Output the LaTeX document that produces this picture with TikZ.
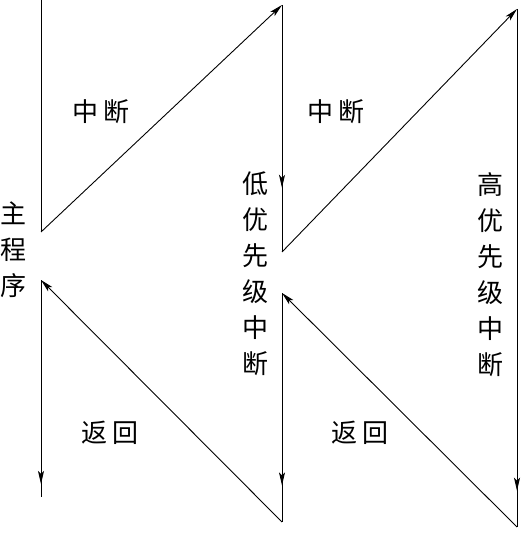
\documentclass[tikz,border=0pt]{standalone}
\usepackage{fontspec}
\newfontfamily\cjk{Noto Sans CJK SC}
\usetikzlibrary{arrows.meta,decorations.markings}
\begin{document}
\begin{tikzpicture}[x=1pt,y=-1pt,line width=0.9pt,
  tipend/.style={-{Stealth[length=13pt,width=6pt,inset=3pt]}},
  midarrow/.style={postaction={decorate},decoration={markings,mark=at position #1 with {\arrow{Stealth[length=13pt,width=6pt,inset=3pt]}}}},
  lbl/.style={font=\cjk\fontsize{26}{36}\selectfont,inner sep=0pt,align=center}]
\useasboundingbox (0,0) rectangle (521,537);
\coordinate (m0) at (41,0);
\coordinate (m1) at (41,232);
\coordinate (l0) at (282,5);
\coordinate (l1) at (282,252);
\coordinate (h0) at (517,9);
\coordinate (h1) at (517,527);
\coordinate (l2) at (282,293);
\coordinate (l3) at (282,522);
\coordinate (m2) at (41,280);
\coordinate (m3) at (41,497);
\draw (m0) -- (m1);
\draw[tipend] (m1) -- (l0);
\draw[midarrow=0.74] (l0) -- (l1);
\draw[tipend] (l1) -- (h0);
\draw[midarrow=0.93] (h0) -- (h1);
\draw[tipend] (h1) -- (l2);
\draw[midarrow=0.84] (l2) -- (l3);
\draw[tipend] (l3) -- (m2);
\draw[midarrow=0.94] (m2) -- (m3);
\node[lbl] (t1) at (101,112) {中\,断};
\node[lbl] (t2) at (336,112) {中\,断};
\node[lbl] (t3) at (110,433) {返\,回};
\node[lbl] (t4) at (360,433) {返\,回};
\node[lbl] (v1) at (14,250) {主\\程\\序};
\node[lbl] (v2) at (255,274) {低\\优\\先\\级\\中\\断};
\node[lbl] (v3) at (490,275) {高\\优\\先\\级\\中\\断};
\end{tikzpicture}
\end{document}
